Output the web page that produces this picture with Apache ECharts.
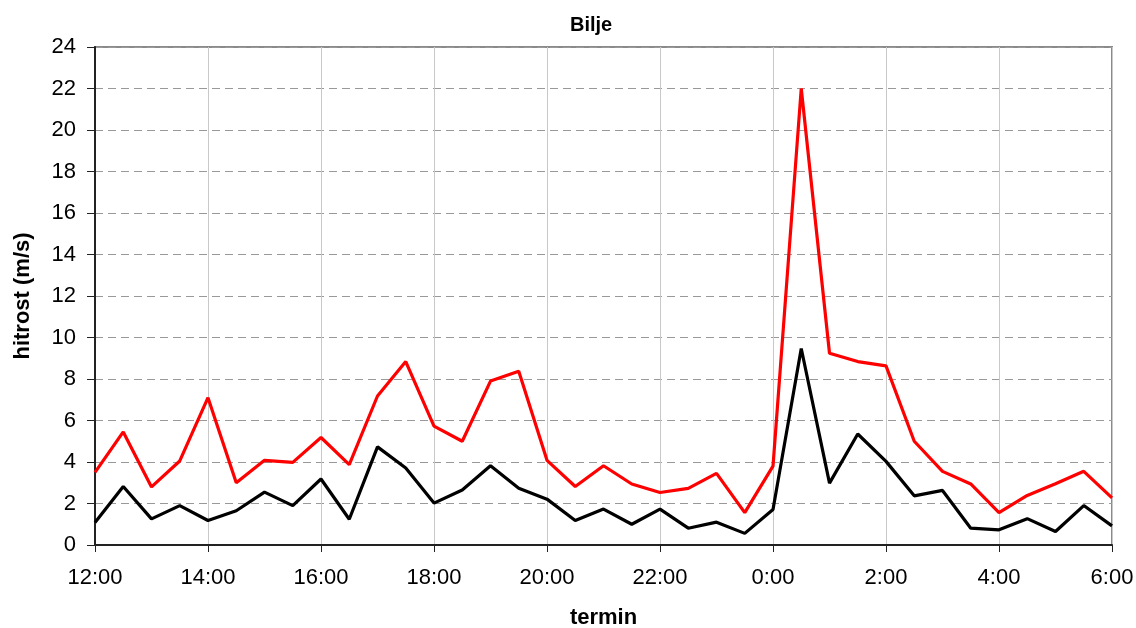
<!DOCTYPE html>
<html>
<head>
<meta charset="utf-8">
<title>Bilje</title>
<script src="https://cdn.jsdelivr.net/npm/echarts@6/dist/echarts.min.js"></script>
<style>
html, body { margin: 0; padding: 0; background: #fff; }
#chart { width: 1136px; height: 628px; }
</style>
</head>
<body>
<div id="chart"></div>
<script>
// termini, vsake pol ure od 12:00 do 6:00
var categories = ['12:00','12:30','13:00','13:30','14:00','14:30','15:00','15:30','16:00','16:30',
  '17:00','17:30','18:00','18:30','19:00','19:30','20:00','20:30','21:00','21:30',
  '22:00','22:30','23:00','23:30','0:00','0:30','1:00','1:30','2:00','2:30',
  '3:00','3:30','4:00','4:30','5:00','5:30','6:00'];

// sunki vetra (rdeca)
var sunki = [3.5, 5.45, 2.8, 4.05, 7.1, 3.0, 4.08, 3.98, 5.18, 3.87,
  7.18, 8.84, 5.73, 5.0, 7.9, 8.37, 4.08, 2.82, 3.82, 2.94,
  2.53, 2.73, 3.45, 1.56, 3.8, 22.0, 9.24, 8.84, 8.63, 5.0,
  3.55, 2.94, 1.56, 2.39, 2.95, 3.55, 2.27];

// povprecna hitrost (crna)
var hitrost = [1.08, 2.82, 1.26, 1.9, 1.18, 1.65, 2.55, 1.9, 3.18, 1.24,
  4.73, 3.71, 2.02, 2.65, 3.82, 2.74, 2.21, 1.18, 1.73, 1.0,
  1.73, 0.81, 1.1, 0.56, 1.71, 9.47, 2.98, 5.35, 4.03, 2.37,
  2.63, 0.81, 0.73, 1.27, 0.65, 1.9, 0.92];

var yTicks = { min: 0, max: 24, interval: 2 };

var font = "'Liberation Sans', Arial, sans-serif";

var myChart = echarts.init(document.getElementById('chart'));
myChart.setOption({
  animation: false,
  title: {
    text: 'Bilje',
    left: 565,
    top: 10,
    textStyle: { fontFamily: font, fontSize: 20, fontWeight: 'bold', color: '#000' }
  },
  grid: {
    left: 95,
    right: 24,
    top: 47,
    bottom: 83,
    outerBoundsMode: 'none',
    show: true,
    borderColor: '#8a8a8a',
    borderWidth: 2
  },
  xAxis: {
    type: 'category',
    data: categories,
    boundaryGap: false,
    name: 'termin',
    nameLocation: 'middle',
    nameGap: 62,
    nameTextStyle: { fontFamily: font, fontSize: 22, fontWeight: 'bold', color: '#000' },
    axisLine: { lineStyle: { color: '#222', width: 2 } },
    axisTick: { interval: 3, length: 7, lineStyle: { color: '#222' } },
    axisLabel: { interval: 3, margin: 22, fontFamily: font, fontSize: 22, color: '#000' },
    splitLine: { show: true, interval: 3, lineStyle: { color: '#c8c8c8', width: 1 } }
  },
  yAxis: {
    type: 'value',
    min: yTicks.min,
    max: yTicks.max,
    interval: yTicks.interval,
    name: 'hitrost (m/s)',
    nameLocation: 'middle',
    nameGap: 61,
    nameTextStyle: { fontFamily: font, fontSize: 22, fontWeight: 'bold', color: '#000' },
    axisLine: { show: true, lineStyle: { color: '#222', width: 2 } },
    axisTick: { show: true, length: 8, lineStyle: { color: '#222' } },
    axisLabel: { margin: 19, fontFamily: font, fontSize: 22, color: '#000' },
    splitLine: { show: true, lineStyle: { color: '#999', type: [8, 5], width: 1 } }
  },
  series: [
    {
      name: 'sunki',
      type: 'line',
      data: sunki,
      showSymbol: false,
      lineStyle: { color: '#ff0000', width: 3.2 },
      itemStyle: { color: '#ff0000' }
    },
    {
      name: 'hitrost',
      type: 'line',
      data: hitrost,
      showSymbol: false,
      lineStyle: { color: '#000', width: 3.2 },
      itemStyle: { color: '#000' }
    }
  ]
});
</script>
</body>
</html>
